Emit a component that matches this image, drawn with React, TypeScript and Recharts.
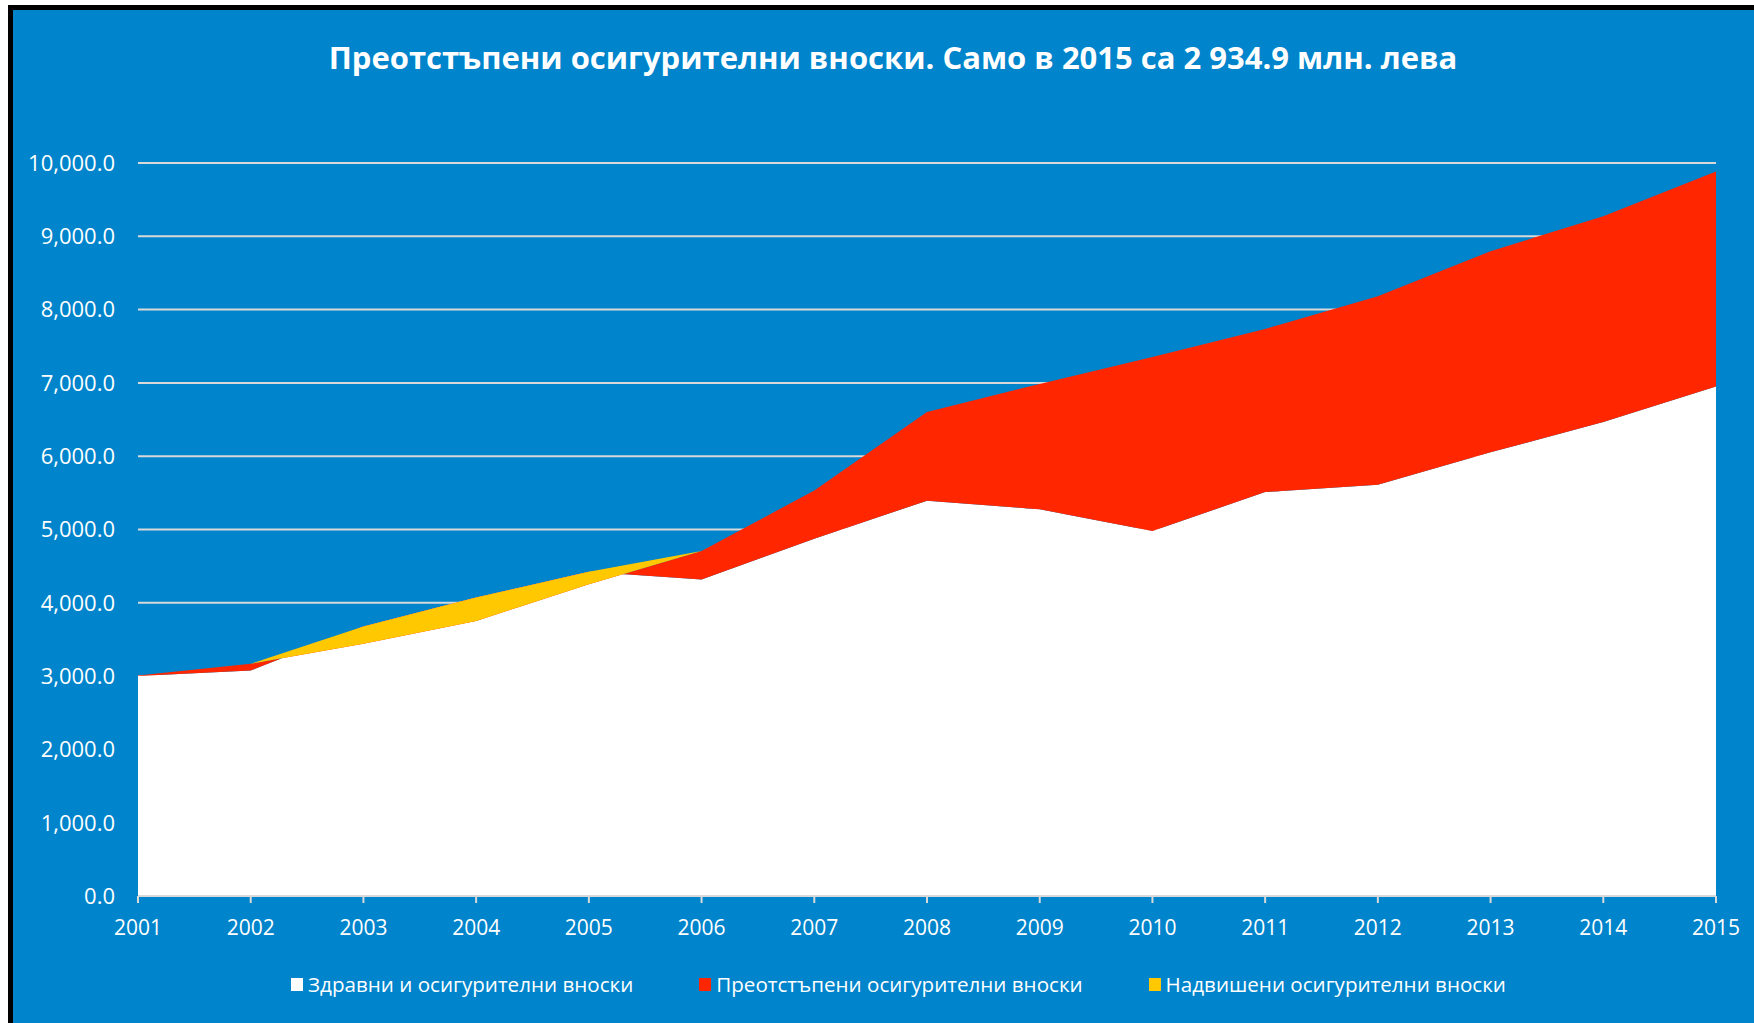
import { AreaChart, Area, XAxis, YAxis, CartesianGrid, Legend } from 'recharts';

// млн. лева
const years = ['2001', '2002', '2003', '2004', '2005', '2006', '2007', '2008', '2009', '2010', '2011', '2012', '2013', '2014', '2015'];
const health = [3000, 3078, 3675, 4072, 4424, 4317, 4875, 5393, 5275, 4980, 5510, 5610, 6053, 6466, 6950];
// отрицателно = надвишени (стека го скрива под жълтото)
const ceded = [8, 90, -235, -320, -170, 389, 658, 1211, 1711, 2374, 2227, 2573, 2744, 2807, 2934.9];
const exceeded = [0, 0, 235, 320, 170, 0, 0, 0, 0, 0, 0, 0, 0, 0, 0];
const yTicks = [0, 1000, 2000, 3000, 4000, 5000, 6000, 7000, 8000, 9000, 10000];
const seriesNames = ['Здравни и осигурителни вноски', 'Преотстъпени осигурителни вноски', 'Надвишени осигурителни вноски'];

const data = years.map((y, i) => ({
  year: y,
  health: health[i],
  ceded: ceded[i],
  exceeded: exceeded[i],
}));

const fmt = (v: number) =>
  v.toLocaleString('en-US', { minimumFractionDigits: 1, maximumFractionDigits: 1 });

const renderLegend = (props: any) => {
  const items = [...(props.payload || [])].sort(
    (a: any, b: any) => seriesNames.indexOf(a.value) - seriesNames.indexOf(b.value),
  );
  return (
    <div
      style={{
        display: 'flex', justifyContent: 'center', alignItems: 'center',
        height: 40, gap: 66, paddingLeft: 30, color: '#fff', fontSize: 20.6,
      }}
    >
      {items.map((e: any) => (
        <div key={e.value} style={{ display: 'flex', alignItems: 'center' }}>
          <span style={{ width: 12, height: 13, background: e.color, marginRight: 5, display: 'inline-block' }} />
          <span>{e.value}</span>
        </div>
      ))}
    </div>
  );
};

export default function App() {
  return (
    <div
      style={{
        position: 'fixed', left: 8, top: 5, width: 1746, height: 1018,
        boxSizing: 'border-box', borderTop: '5px solid #000', borderLeft: '5px solid #000',
        background: '#0084CB', overflow: 'hidden', fontFamily: '"Open Sans", sans-serif',
      }}
    >
      <div style={{ position: 'absolute', left: 0, top: 0 }}>
        <AreaChart width={1741} height={1013} data={data} margin={{ top: 153, right: 38, left: 0, bottom: 57 }}>
          <CartesianGrid vertical={false} stroke="#D9D9D9" strokeWidth={2} />
          <XAxis
            dataKey="year"
            interval={0}
            height={30}
            axisLine={{ stroke: '#D9D9D9', strokeWidth: 2 }}
            tickLine={{ stroke: '#D9D9D9', strokeWidth: 2 }}
            tickSize={7}
            tickMargin={17}
            tick={{ fill: '#fff', fontSize: 21 }}
          />
          <YAxis
            width={125}
            domain={[0, 10000]}
            ticks={yTicks}
            tickFormatter={fmt}
            axisLine={false}
            tickLine={false}
            tickSize={0}
            tickMargin={23}
            tick={{ fill: '#fff', fontSize: 22 }}
          />
          <Area type="linear" dataKey="health" name={seriesNames[0]} stackId="a"
            fill="#FFFFFF" fillOpacity={1} stroke="none" isAnimationActive={false} activeDot={false} />
          <Area type="linear" dataKey="ceded" name={seriesNames[1]} stackId="a"
            fill="#FF2600" fillOpacity={1} stroke="none" isAnimationActive={false} activeDot={false} />
          <Area type="linear" dataKey="exceeded" name={seriesNames[2]} stackId="a"
            fill="#FFC800" fillOpacity={1} stroke="none" isAnimationActive={false} activeDot={false} />
          <Legend
            verticalAlign="bottom"
            content={renderLegend}
            wrapperStyle={{ left: 0, width: 1741, bottom: 19, height: 40 }}
          />
        </AreaChart>
      </div>
      <div
        style={{
          position: 'absolute', left: 880, top: 27, transform: 'translateX(-50%)',
          whiteSpace: 'nowrap', color: '#fff', fontWeight: 700, fontSize: 31, lineHeight: '40px',
        }}
      >
        Преотстъпени осигурителни вноски. Само в 2015 са 2 934.9 млн. лева
      </div>
    </div>
  );
}
